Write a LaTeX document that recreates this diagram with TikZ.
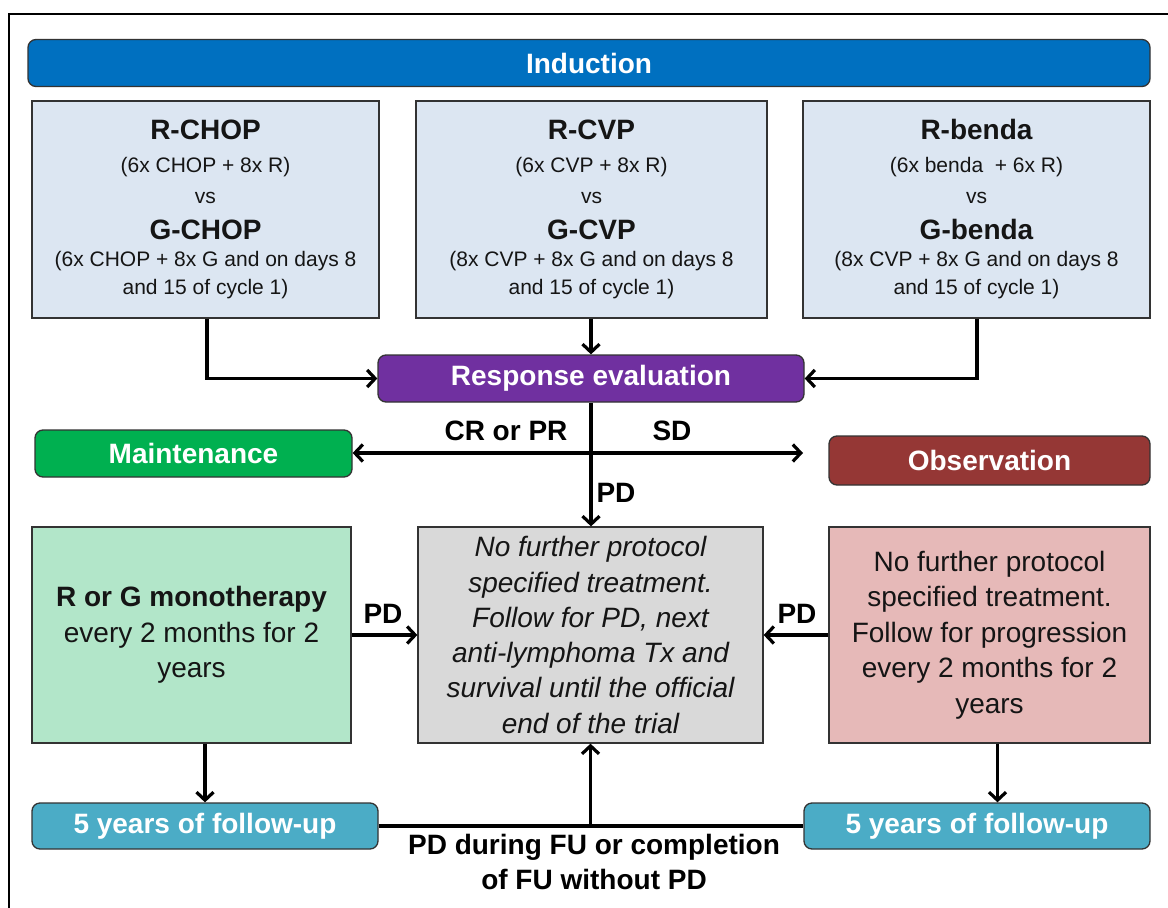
\documentclass[tikz,border=0pt]{standalone}
\usepackage{fontspec}
\setmainfont{Liberation Sans}
\usetikzlibrary{arrows.meta,calc}
\definecolor{indblue}{HTML}{0070C0}
\definecolor{respurple}{HTML}{7030A0}
\definecolor{maintgreen}{HTML}{00B050}
\definecolor{obsred}{HTML}{953735}
\definecolor{fublue}{HTML}{4BACC6}
\definecolor{armfill}{HTML}{DCE6F2}
\definecolor{grayfill}{HTML}{D9D9D9}
\definecolor{greenfill}{HTML}{B2E6C9}
\definecolor{pinkfill}{HTML}{E6B9B8}
\definecolor{edge}{HTML}{333333}
\definecolor{txt}{HTML}{151515}
\begin{document}
\begin{tikzpicture}[x=1pt,y=-1pt,
  bar/.style={draw=edge, line width=1.3pt, rounded corners=8pt, text=white,
    font=\bfseries\fontsize{28}{33}\selectfont, inner sep=0pt, minimum height=47pt},
  armbox/.style={draw=edge, line width=1.3pt, fill=armfill, text=txt, align=center,
    inner sep=0pt, minimum height=217pt, font=\fontsize{21}{28}\selectfont},
  lowbox/.style={draw=edge, line width=1.3pt, text=txt, align=center,
    inner sep=0pt, minimum height=216pt, font=\fontsize{28}{35.5}\selectfont},
  conn/.style={line width=3.2pt, draw=black, -{Straight Barb[length=8pt,width=17pt]}},
  plain/.style={line width=3.2pt, draw=black},
  lbl/.style={font=\bfseries\fontsize{28}{35}\selectfont, text=black, inner sep=0pt}
]
\useasboundingbox (0,0) rectangle (1168,908);
\newcommand{\bigb}[1]{{\fontsize{28}{28}\selectfont\bfseries #1}}
% outer frame
\draw[line width=2pt] (9,908) -- (9,14) -- (1168,14);

% top row
\node[bar, fill=indblue, minimum width=1122pt] (ind) at (589,63) {Induction};
\node[armbox, minimum width=347pt] (b1) at (205.5,209.5)
  {\bigb{R-CHOP}\\[5pt] (6x CHOP + 8x R)\\[3pt] vs\\[8pt] \bigb{G-CHOP}\\[-1pt] (6x CHOP + 8x G and on days 8\\ and 15 of cycle 1)};
\node[armbox, minimum width=351pt] (b2) at (591.5,209.5)
  {\bigb{R-CVP}\\[5pt] (6x CVP + 8x R)\\[3pt] vs\\[8pt] \bigb{G-CVP}\\[-1pt] (8x CVP + 8x G and on days 8\\ and 15 of cycle 1)};
\node[armbox, minimum width=347pt] (b3) at (976.5,209.5)
  {\bigb{R-benda}\\[5pt] (6x benda\ \ + 6x R)\\[3pt] vs\\[8pt] \bigb{G-benda}\\[-1pt] (8x CVP + 8x G and on days 8\\ and 15 of cycle 1)};

\node[bar, fill=respurple, minimum width=426pt] (resp) at (591,378.5) {Response evaluation};

\node[bar, fill=maintgreen, minimum width=317pt] (maint) at (193.5,453.5) {Maintenance};
\node[bar, fill=obsred, minimum width=321pt, minimum height=49pt] (obs) at (989.5,460.5) {Observation};

% lower boxes
\node[lowbox, fill=greenfill, minimum width=319pt] (green) at (191.5,635)
  {{\bfseries R or G monotherapy}\\ every 2 months for 2\\ years};
\node[lowbox, fill=grayfill, minimum width=345pt, font=\itshape\fontsize{28}{35.3}\selectfont] (gray) at (590.5,635)
  {No further protocol\\ specified treatment.\\ Follow for PD, next\\ anti-lymphoma Tx and\\ survival until the official\\ end of the trial};
\node[lowbox, fill=pinkfill, minimum width=321pt] (pink) at (989.5,635)
  {No further protocol\\ specified treatment.\\ Follow for progression\\ every 2 months for 2\\ years};

\node[bar, fill=fublue, minimum width=346pt, minimum height=46pt] (fuL) at (205,826) {5 years of follow-up};
\node[bar, fill=fublue, minimum width=346pt, minimum height=46pt] (fuR) at (977,826) {5 years of follow-up};

% connectors
\draw[conn] (b1.south -| 207,0) |- (resp.west);
\draw[conn] (b2.south -| resp.north) -- (resp.north);
\draw[conn] (b3.south -| 977,0) |- (resp.east);
\coordinate (sdtip) at (803,453);
\draw[plain, {Straight Barb[length=8pt,width=17pt]}-{Straight Barb[length=8pt,width=17pt]}] (maint.east |- sdtip) -- (sdtip);
\draw[conn] (resp.south) -- (resp.south |- gray.north);
\draw[conn] (green.east) -- (gray.west);
\draw[conn] (pink.west) -- (gray.east);
\draw[conn] (green.south -| fuL.north) -- (fuL.north);
\draw[conn] ([xshift=8pt]pink.south) -- ([xshift=8pt]pink.south |- fuR.north);
\draw[plain] (fuL.east) -- (fuR.west);
\draw[conn] (gray.south |- fuL.east) -- (gray.south);

% labels
\node[lbl, anchor=base] (lcr) at (506,440) {CR or PR};
\node[lbl, anchor=base] (lsd) at (672,440) {SD};
\node[lbl, anchor=base] (lpd) at (616,502) {PD};
\node[lbl, anchor=base] (lpdl) at (383,623) {PD};
\node[lbl, anchor=base] (lpdr) at (797,623) {PD};
\node[lbl, anchor=north, align=center] (lfu) at (594,834) {PD during FU or completion\\ of FU without PD};
\end{tikzpicture}
\end{document}
